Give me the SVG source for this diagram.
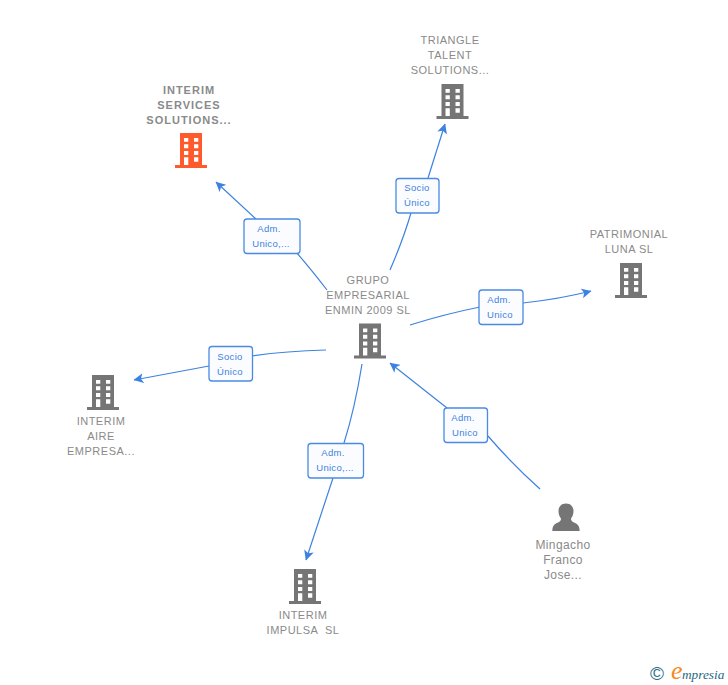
<svg xmlns="http://www.w3.org/2000/svg" width="728" height="685" viewBox="0 0 728 685">
<style>
.t{font-family:"Liberation Sans",Arial,sans-serif;font-size:11px;fill:#8a8a8a;text-anchor:middle;letter-spacing:.5px}
.b{font-weight:bold;letter-spacing:1px}
.p{font-size:12px;letter-spacing:.4px}
.c{fill:none;stroke:#3d82e0;stroke-width:1.2}
.box{fill:#fbfcff;stroke:#4a8ae2;stroke-width:1.3}
.l{font-family:"Liberation Sans",Arial,sans-serif;font-size:9.5px;fill:#3d82e0;text-anchor:middle;letter-spacing:.3px}
</style>
<defs>
<marker id="a" viewBox="0 0 10 10" refX="9.5" refY="5" markerWidth="10" markerHeight="10" markerUnits="userSpaceOnUse" orient="auto"><path d="M0 0L10 5L0 10L2.5 5Z" fill="#3d82e0"/></marker>
<symbol id="bld" viewBox="-16 0 32 35" width="32" height="35" overflow="visible">
<path fill-rule="evenodd" d="M-11 0H11V32H16V35H-16V32H-11ZM-7 5V8.700H-2.700V5ZM3 5V8.700H7.300V5ZM-7 11.300V15.300H-2.700V11.300ZM3 11.300V15.300H7.300V11.300ZM-7 18V22H-2.700V18ZM3 18V22H7.300V18ZM-7 24.300V32H-2.700V24.300ZM3 24.300V28.700H7.300V24.300Z"/>
</symbol>
</defs>
<g id="connectors">
<path class="c" d="M327 290Q310 268 296 252"/>
<path class="c" marker-end="url(#a)" d="M256 219L216 182"/>
<path class="c" d="M390 270Q403 240 411 213"/>
<path class="c" marker-end="url(#a)" d="M428 178L445 124"/>
<path class="c" d="M410 325Q445 314 480 307"/>
<path class="c" marker-end="url(#a)" d="M523 303Q560 299 591 291"/>
<path class="c" d="M326 350Q285 351 252 356"/>
<path class="c" marker-end="url(#a)" d="M209 366L134 380"/>
<path class="c" d="M362 364Q355 408 344 443"/>
<path class="c" marker-end="url(#a)" d="M333 478L306 560"/>
<path class="c" d="M540 489Q512 464 488 436"/>
<path class="c" marker-end="url(#a)" d="M447 408L390 363"/>
</g>
<g id="edge-labels">
<g><rect class="box" x="244" y="219" width="56" height="34.500" rx="3"/><text class="l" x="269" y="232">Adm.</text><text class="l" x="271" y="247">Unico,...</text></g>
<g><rect class="box" x="396" y="178.500" width="43" height="34.500" rx="3"/><text class="l" x="417" y="191">Socio</text><text class="l" x="417" y="206">Único</text></g>
<g><rect class="box" x="479" y="290" width="44" height="34.500" rx="3"/><text class="l" x="499" y="303">Adm.</text><text class="l" x="500" y="318">Unico</text></g>
<g><rect class="box" x="209" y="346.500" width="43.500" height="34.500" rx="3"/><text class="l" x="230" y="360">Socio</text><text class="l" x="230" y="375">Único</text></g>
<g><rect class="box" x="308" y="443.500" width="55.500" height="34.500" rx="3"/><text class="l" x="333" y="456">Adm.</text><text class="l" x="335" y="471">Unico,...</text></g>
<g><rect class="box" x="444" y="408" width="43.500" height="34.500" rx="3"/><text class="l" x="463" y="421">Adm.</text><text class="l" x="465" y="436">Unico</text></g>
</g>
<g id="node-services"><text class="t b" x="189" y="94">INTERIM</text><text class="t b" x="189" y="109">SERVICES</text><text class="t b" x="189" y="124">SOLUTIONS...</text><use href="#bld" x="175" y="133" fill="#ff5a2b"/></g>
<g id="node-triangle"><text class="t" x="450" y="44">TRIANGLE</text><text class="t" x="450" y="59">TALENT</text><text class="t" x="450" y="74">SOLUTIONS...</text><use href="#bld" x="436.500" y="84" fill="#757575"/></g>
<g id="node-patrimonial"><text class="t" x="629" y="238">PATRIMONIAL</text><text class="t" x="629" y="253">LUNA SL</text><use href="#bld" x="615" y="263" fill="#757575"/></g>
<g id="node-grupo"><text class="t" x="368" y="284">GRUPO</text><text class="t" x="368" y="299">EMPRESARIAL</text><text class="t" x="368" y="314">ENMIN 2009 SL</text><use href="#bld" x="354" y="323.500" fill="#757575"/></g>
<g id="node-aire"><use href="#bld" x="87" y="375" fill="#757575"/><text class="t" x="101" y="425">INTERIM</text><text class="t" x="101" y="440">AIRE</text><text class="t" x="101" y="455">EMPRESA...</text></g>
<g id="node-impulsa"><use href="#bld" x="289" y="569" fill="#757575"/><text class="t" x="303" y="619">INTERIM</text><text class="t" x="303" y="634" xml:space="preserve">IMPULSA  SL</text></g>
<g id="node-mingacho"><path fill="#757575" d="M566 503.500C561 503.500 558.500 507 558.500 511C558.500 514 559.500 516.500 561 518.500C561 520.500 560 521.500 558 522.500C555 523.800 552.500 525 552.300 531H579.700C579.500 525 577 523.800 574 522.500C572 521.500 571 520.500 571 518.500C572.500 516.500 573.500 514 573.500 511C573.500 507 571 503.500 566 503.500Z"/><text class="t p" x="563" y="549">Mingacho</text><text class="t p" x="563" y="564">Franco</text><text class="t p" x="563" y="579">Jose...</text></g>
<g id="logo"><text x="650" y="680" font-family="'Liberation Sans',sans-serif" font-size="19" fill="#2f6f86">©</text><text x="671" y="679" font-family="'Liberation Serif',serif" font-style="italic" font-size="26" fill="#f58a1f">e</text><text x="682" y="679" font-family="'Liberation Serif',serif" font-style="italic" font-size="13.300" fill="#1f6a80">mpresia</text></g>
</svg>
